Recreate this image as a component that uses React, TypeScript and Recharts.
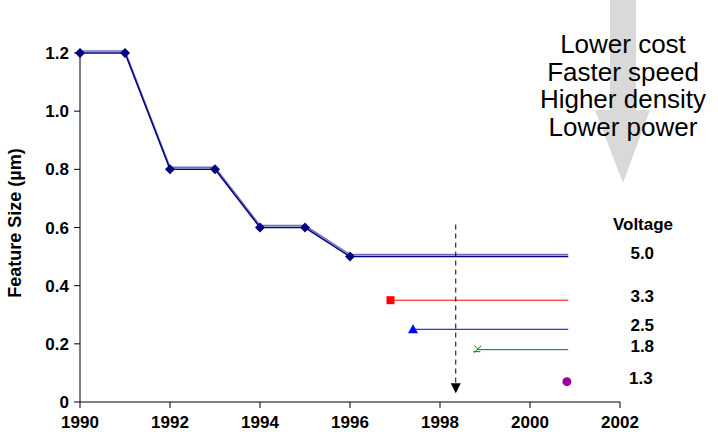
import React from 'react'
import { ComposedChart, Line, XAxis, YAxis } from 'recharts'

// feature size roadmap
const mainYears = [1990, 1991, 1992, 1993, 1994, 1995, 1996, 2000.85]
const mainSizes = [1.2, 1.2, 0.8, 0.8, 0.6, 0.6, 0.5, 0.5]

const voltages = ['5.0', '3.3', '2.5', '1.8', '1.3']
const startYears = [1996, 1996.9, 1997.4, 1998.85, 2000.82]
const endYear = 2000.85
const voltSizes = [0.5, 0.35, 0.25, 0.18, 0.07]

const arrowYear = 1998.35
const arrowFrom = 0.61
const arrowTo = 0.03

const xTicks = [1990, 1992, 1994, 1996, 1998, 2000, 2002]
const yTicks = [0, 0.2, 0.4, 0.6, 0.8, 1.0, 1.2]
const benefits = ['Lower cost', 'Faster speed', 'Higher density', 'Lower power']

const mainData = mainYears.map((year, i) => ({ year, size: mainSizes[i] }))
const voltData = voltages.slice(1, 4).map((_, i) => [
  { year: startYears[i + 1], size: voltSizes[i + 1] },
  { year: endYear, size: voltSizes[i + 1] },
])
// single point, doubled so the line draws one segment of zero length
const purpleData = [
  { year: startYears[4], size: voltSizes[4] },
  { year: startYears[4], size: voltSizes[4] },
]
const arrowData = [
  { year: arrowYear, size: arrowFrom },
  { year: arrowYear, size: arrowTo },
]

const FONT = '"Liberation Sans", Arial, sans-serif'
const colors = ['#ff0000', '#0000cc', '#008000', '#990099']
const markerColors = ['#ff0000', '#0000ff', '#008000', '#990099']
const kinds = ['square', 'triangle', 'star', 'circle']

function VoltLabel({ x, y, text }: { x: number; y: number; text: string }) {
  return (
    <text
      x={x + 74}
      y={y + 2}
      textAnchor="middle"
      fontFamily={FONT}
      fontWeight="bold"
      fontSize={17}
      fill="#000"
    >
      {text}
    </text>
  )
}

function Marker({ kind, cx, cy, color }: { kind: string; cx: number; cy: number; color: string }) {
  if (kind === 'diamond') {
    return <polygon points={`${cx},${cy - 5} ${cx + 5},${cy} ${cx},${cy + 5} ${cx - 5},${cy}`} fill={color} />
  }
  if (kind === 'square') {
    return <rect x={cx - 4} y={cy - 4} width={8} height={8} fill={color} />
  }
  if (kind === 'triangle') {
    return <polygon points={`${cx},${cy - 5} ${cx + 5},${cy + 4} ${cx - 5},${cy + 4}`} fill={color} />
  }
  if (kind === 'star') {
    return (
      <g stroke={color} strokeWidth={1}>
        <line x1={cx - 4} y1={cy - 4} x2={cx} y2={cy} />
        <line x1={cx + 3} y1={cy - 4} x2={cx - 4} y2={cy + 3} />
        <line x1={cx - 5} y1={cy + 2} x2={cx + 2} y2={cy + 2} />
      </g>
    )
  }
  return <circle cx={cx} cy={cy} r={4.5} fill={color} />
}

export default function App() {
  return (
    <div style={{ position: 'absolute', left: 0, top: 0, width: 718, height: 441, background: '#fff' }}>
      <svg width={718} height={441} style={{ position: 'absolute', left: 0, top: 0 }}>
        <polygon points="610,0 636,0 636,110 650,110 623,183 595,110 610,110" fill="#d9d9d9" />
        {benefits.map((b, i) => (
          <text key={b} x={623} y={53 + i * 27.7} textAnchor="middle" fontFamily={FONT} fontSize={26} fill="#000">
            {b}
          </text>
        ))}
        <text x={643} y={230} textAnchor="middle" fontFamily={FONT} fontWeight="bold" fontSize={17}>
          Voltage
        </text>
        <text
          transform="rotate(-90, 15, 223)"
          x={15}
          y={223}
          textAnchor="middle"
          dominantBaseline="central"
          fontFamily={FONT}
          fontWeight="bold"
          fontSize={18}
        >
          Feature Size (µm)
        </text>
      </svg>
      <div style={{ position: 'absolute', left: 0, top: 0 }}>
        <ComposedChart width={718} height={441} margin={{ top: 53, right: 98, left: 0, bottom: 0 }}>
          <XAxis
            dataKey="year"
            type="number"
            domain={[1990, 2002]}
            ticks={xTicks}
            interval={0}
            height={39}
            tickMargin={8}
            tick={{ fontFamily: FONT, fontWeight: 'bold', fontSize: 17, fill: '#000' }}
            stroke="#000"
            allowDuplicatedCategory={false}
          />
          <YAxis
            type="number"
            domain={[0, 1.2]}
            ticks={yTicks}
            width={80}
            tickMargin={5}
            tickFormatter={(v: number) => (v === 0 ? '0' : v.toFixed(1))}
            tick={{ fontFamily: FONT, fontWeight: 'bold', fontSize: 17, fill: '#000' }}
            stroke="#000"
          />
          <Line
            data={mainData}
            dataKey="size"
            stroke="#7070b8"
            strokeWidth={1.5}
            dot={false}
            style={{ transform: 'translateY(-2px)' }}
            isAnimationActive={false}
          />
          <Line
            data={mainData}
            dataKey="size"
            stroke="#000080"
            strokeWidth={1.5}
            isAnimationActive={false}
            dot={(p: any) =>
              p.index === mainData.length - 1 ? (
                <VoltLabel key={p.index} x={p.cx} y={p.cy} text={voltages[0]} />
              ) : (
                <Marker key={p.index} kind="diamond" cx={p.cx} cy={p.cy} color="#000080" />
              )
            }
          />
          {voltData.map((d, i) => (
            <Line
              key={voltages[i + 1]}
              data={d}
              dataKey="size"
              stroke={colors[i]}
              strokeWidth={1}
              isAnimationActive={false}
              dot={(p: any) =>
                p.index === 0 ? (
                  <Marker key={p.index} kind={kinds[i]} cx={p.cx} cy={p.cy} color={markerColors[i]} />
                ) : (
                  <VoltLabel key={p.index} x={p.cx} y={p.cy} text={voltages[i + 1]} />
                )
              }
            />
          ))}
          <Line
            data={purpleData}
            dataKey="size"
            stroke="none"
            isAnimationActive={false}
            dot={(p: any) =>
              p.index === 0 ? (
                <Marker key={p.index} kind="circle" cx={p.cx} cy={p.cy} color={markerColors[3]} />
              ) : (
                <VoltLabel key={p.index} x={p.cx} y={p.cy} text={voltages[4]} />
              )
            }
          />
          <Line
            data={arrowData}
            dataKey="size"
            stroke="#000"
            strokeWidth={1}
            strokeDasharray="5 4"
            isAnimationActive={false}
            dot={(p: any) =>
              p.index === 1 ? (
                <polygon
                  key={p.index}
                  points={`${p.cx - 5},${p.cy - 10} ${p.cx + 5},${p.cy - 10} ${p.cx},${p.cy}`}
                  fill="#000"
                />
              ) : (
                <g key={p.index} />
              )
            }
          />
        </ComposedChart>
      </div>
    </div>
  )
}
